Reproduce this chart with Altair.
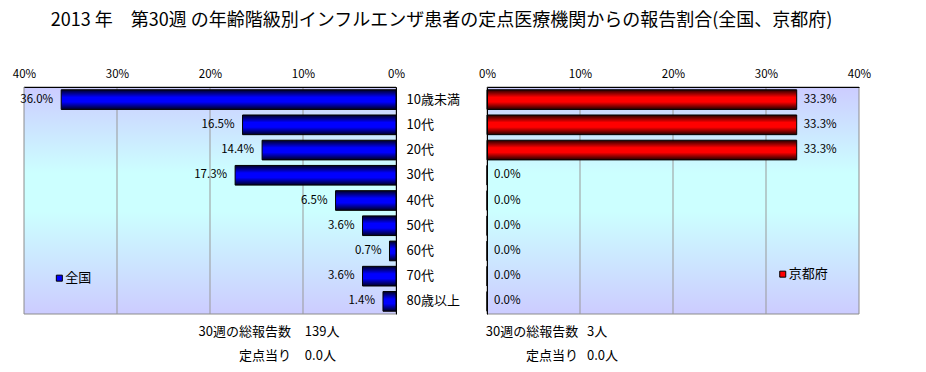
import altair as alt
import pandas as pd

categories = ["10歳未満", "10代", "20代", "30代", "40代", "50代", "60代", "70代", "80歳以上"]
national = [36.0, 16.5, 14.4, 17.3, 6.5, 3.6, 0.7, 3.6, 1.4]
kyoto = [33.3, 33.3, 33.3, 0.0, 0.0, 0.0, 0.0, 0.0, 0.0]
axis_ticks = [0, 10, 20, 30, 40]
grid_ticks = [10, 20, 30]
series_names = ["全国", "京都府"]
totals = [139, 3]
per_site = [0.0, 0.0]
info_labels = ["30週の総報告数", "定点当り"]
title_text = "2013 年　第30週 の年齢階級別インフルエンザ患者の定点医療機関からの報告割合(全国、京都府)"

W, H = 372, 227
FONT = "Noto Sans CJK JP"


def vgrad(stops):
    return alt.LinearGradient(
        gradient="linear", x1=0, y1=0, x2=0, y2=1,
        stops=[alt.GradientStop(offset=o, color=c) for o, c in stops],
    )


bg_fill = vgrad([(0, "#ccccff"), (0.38, "#ccffff"), (0.55, "#ccffff"), (1, "#ccccff")])
blue_fill = vgrad([(0, "#000022"), (0.38, "#0000ff"), (0.62, "#0000ff"), (1, "#000022")])
red_fill = vgrad([(0, "#220000"), (0.38, "#ff0000"), (0.62, "#ff0000"), (1, "#220000")])


def panel(values, reverse, bar_fill, legend_color, name, legend_x, legend_dy,
          total, site, info_lx, info_vx, lab_align, lab_dx, y_orient, show_cat):
    df = pd.DataFrame({"cat": categories, "v": values})
    df["label"] = [f"{v:.1f}%" for v in values]
    xscale = alt.Scale(domain=[0, 40], reverse=reverse, nice=False)
    xaxis = alt.Axis(orient="top", values=axis_ticks, labelExpr="datum.value + '%'",
                     grid=False, ticks=False, domainColor="black", labelFlush=False,
                     labelPadding=8, labelFontSize=11.5, labelColor="black",
                     title=None, zindex=1)
    yaxis = alt.Axis(orient=y_orient, labels=show_cat, ticks=False, domainColor="black",
                     title=None, labelPadding=10, labelFontSize=13, labelColor="black",
                     zindex=1)
    yenc = alt.Y("cat:N", sort=categories,
                 scale=alt.Scale(domain=categories, paddingInner=0.22, paddingOuter=0.11),
                 axis=yaxis)

    bg = alt.Chart(pd.DataFrame({"a": [axis_ticks[0]], "b": [axis_ticks[-1]]})).mark_rect(
        fill=bg_fill, stroke="#8c8c8c", strokeWidth=1
    ).encode(x=alt.X("a:Q", scale=xscale, axis=xaxis), x2="b:Q",
             y=alt.value(0), y2=alt.value(H))
    grid = alt.Chart(pd.DataFrame({"t": grid_ticks})).mark_rule(color="#999999").encode(
        x=alt.X("t:Q", scale=xscale, axis=xaxis), y=alt.value(0), y2=alt.value(H))
    base = alt.Chart(df)
    bars = base.mark_bar(fill=bar_fill, stroke="black", strokeWidth=1).encode(
        x=alt.X("v:Q", scale=xscale, axis=xaxis), y=yenc)
    labels = base.mark_text(align=lab_align, dx=lab_dx, baseline="middle",
                            fontSize=11.5, color="black").encode(
        x=alt.X("v:Q", scale=xscale, axis=xaxis), y=yenc, text="label:N")

    ldf = pd.DataFrame({"x": [legend_x], "cat": ["70代"], "name": [name]})
    lsq = alt.Chart(ldf).mark_square(size=36, fill=legend_color, stroke="black",
                                     strokeWidth=1, opacity=1, yOffset=legend_dy).encode(
        x=alt.X("x:Q", scale=xscale, axis=xaxis), y=yenc)
    ltx = alt.Chart(ldf).mark_text(align="left", dx=6,
                                   dy=legend_dy, baseline="middle", fontSize=13,
                                   color="black").encode(
        x=alt.X("x:Q", scale=xscale, axis=xaxis), y=yenc, text="name:N")

    layers = [bg, grid, bars, labels, lsq, ltx]
    vals = [f"{total}人", f"{site:.1f}人"]
    for i, (lab, val) in enumerate(zip(info_labels, vals)):
        layers.append(alt.Chart(pd.DataFrame({"x": [info_lx], "t": [lab]})).mark_text(
            align="right", baseline="middle", fontSize=13, color="black").encode(
            x=alt.X("x:Q", scale=xscale, axis=xaxis), y=alt.value(H + 18 + 24 * i),
            text="t:N"))
        layers.append(alt.Chart(pd.DataFrame({"x": [info_vx], "t": [val]})).mark_text(
            align="left", baseline="middle", fontSize=13, color="black").encode(
            x=alt.X("x:Q", scale=xscale, axis=xaxis), y=alt.value(H + 18 + 24 * i),
            text="t:N"))
    return alt.layer(*layers).properties(width=W, height=H)


left = panel(national, True, blue_fill, "#0000ff", series_names[0], 36.2, 2,
             totals[0], per_site[0], 11.3, 9.8, "right", -8, "right", True)
right = panel(kyoto, False, red_fill, "#ff0000", series_names[1], 31.8, -2,
              totals[1], per_site[1], 9.8, 10.75, "left", 7, "left", False)

chart = alt.hconcat(left, right, spacing=18).properties(
    title=alt.TitleParams(title_text, anchor="middle", fontSize=18, font=FONT,
                          fontWeight="normal", color="black", offset=38),
    padding={"left": 4, "top": 4, "right": 5, "bottom": 5},
).configure(font=FONT).configure_view(strokeWidth=0)

chart.save("out.html", embed_options={"renderer": "svg", "actions": False})
